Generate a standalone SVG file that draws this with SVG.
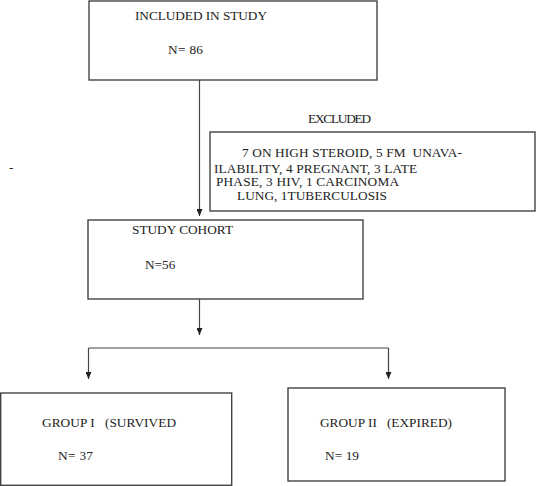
<svg xmlns="http://www.w3.org/2000/svg" width="539" height="486" viewBox="0 0 539 486">
<style>
.box{fill:#fff;stroke:#444;stroke-width:1.4}
.t{font-family:"Liberation Serif","Times New Roman",serif;font-size:13.3px;fill:#222}
.c{fill:none;stroke:#444;stroke-width:1.2}
</style>
<defs>
<marker id="ah" viewBox="0 0 10 10" refX="10" refY="5" markerWidth="7" markerHeight="6" markerUnits="userSpaceOnUse" orient="auto" preserveAspectRatio="none">
<path d="M0,0 L10,5 L0,10 z" fill="#222"/>
</marker>
</defs>
<rect width="539" height="486" fill="#fff"/>
<g id="connectors">
<path class="c" d="M199.5,80 V216" marker-end="url(#ah)"/>
<path class="c" d="M199.5,299 V335" marker-end="url(#ah)"/>
<path class="c" d="M88.5,348 H388.5"/>
<path class="c" d="M88.5,348 V379" marker-end="url(#ah)"/>
<path class="c" d="M388.5,348 V379" marker-end="url(#ah)"/>
</g>
<g id="included">
<rect class="box" x="89" y="1" width="288" height="79"/>
<text class="t" x="135" y="20" textLength="132">INCLUDED IN STUDY</text>
<text class="t" x="168" y="54" textLength="35">N= 86</text>
</g>
<g id="excluded">
<text class="t" x="308" y="123" textLength="63">EXCLUDED</text>
<rect class="box" x="210" y="132" width="325" height="79"/>
<text class="t" x="242" y="157" xml:space="preserve" textLength="220">7 ON HIGH STEROID, 5 FM  UNAVA-</text>
<text class="t" x="214" y="172.5" textLength="203">ILABILITY, 4 PREGNANT, 3 LATE</text>
<text class="t" x="216" y="186" textLength="183">PHASE, 3 HIV, 1 CARCINOMA</text>
<text class="t" x="237" y="199.5" textLength="150">LUNG, 1TUBERCULOSIS</text>
</g>
<text class="t" x="9" y="172">-</text>
<g id="cohort">
<rect class="box" x="88" y="220" width="275" height="79"/>
<text class="t" x="132" y="234" textLength="101">STUDY COHORT</text>
<text class="t" x="145" y="269">N=56</text>
</g>
<g id="group1">
<rect class="box" x="0.7" y="393" width="231" height="92.3"/>
<text class="t" x="42" y="427" xml:space="preserve" textLength="134">GROUP I   (SURVIVED</text>
<text class="t" x="58" y="460" textLength="35">N= 37</text>
</g>
<g id="group2">
<rect class="box" x="288" y="388" width="217" height="93"/>
<text class="t" x="320" y="427" xml:space="preserve" textLength="132">GROUP II   (EXPIRED)</text>
<text class="t" x="325" y="460" textLength="34">N= 19</text>
</g>
</svg>
